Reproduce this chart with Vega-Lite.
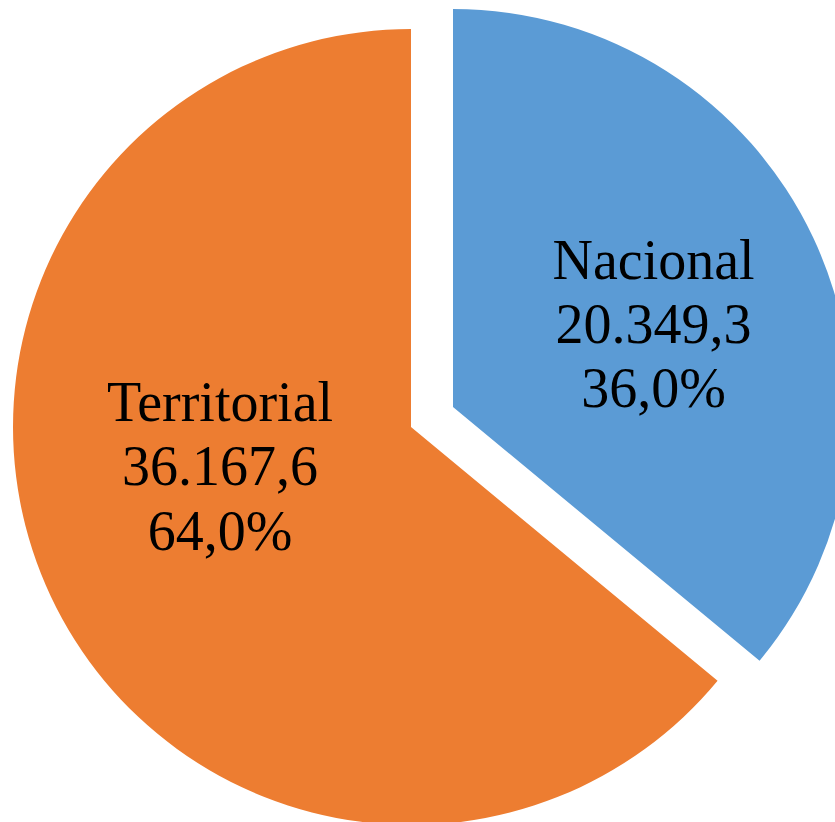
{
  "$schema": "https://vega.github.io/schema/vega-lite/v6.json",
  "autosize": {"type": "none"},
  "width": 822,
  "height": 790,
  "padding": {"left": 0, "top": 32, "right": 13, "bottom": 0},
  "background": "white",
  "config": {
    "view": {"stroke": null},
    "locale": {
      "number": {"decimal": ",", "thousands": ".", "grouping": [3], "currency": ["$", ""]}
    }
  },
  "data": {
    "values": [
      {"sector": "Nacional", "value": 20349.3, "pct": 0.36},
      {"sector": "Territorial", "value": 36167.6, "pct": 0.64}
    ]
  },
  "encoding": {
    "theta": {"field": "value", "type": "quantitative", "stack": true},
    "order": {"field": "sector", "sort": "ascending"},
    "color": {
      "field": "sector",
      "type": "nominal",
      "scale": {"domain": ["Nacional", "Territorial"], "range": ["#5B9BD5", "#ED7D31"]},
      "legend": null
    }
  },
  "layer": [
    {
      "mark": {"type": "arc", "outerRadius": 398},
      "encoding": {
        "opacity": {"condition": {"test": "datum.sector === 'Territorial'", "value": 1}, "value": 0}
      }
    },
    {
      "mark": {"type": "arc", "outerRadius": 398, "xOffset": 42, "yOffset": -20},
      "encoding": {
        "opacity": {"condition": {"test": "datum.sector === 'Nacional'", "value": 1}, "value": 0}
      }
    },
    {
      "mark": {"type": "text", "radius": 189, "dx": -20, "dy": -86, "font": "Liberation Serif", "fontSize": 56, "color": "black", "baseline": "alphabetic"},
      "encoding": {
        "text": {"condition": {"test": "datum.sector === 'Territorial'", "field": "sector", "type": "nominal"}, "value": ""},
        "color": {"value": "black"}
      }
    },
    {
      "mark": {"type": "text", "radius": 189, "dx": -20, "dy": -22, "font": "Liberation Serif", "fontSize": 56, "color": "black", "baseline": "alphabetic"},
      "encoding": {
        "text": {"condition": {"test": "datum.sector === 'Territorial'", "field": "value", "type": "quantitative", "format": ",.1f"}, "value": ""},
        "color": {"value": "black"}
      }
    },
    {
      "mark": {"type": "text", "radius": 189, "dx": -20, "dy": 43, "font": "Liberation Serif", "fontSize": 56, "color": "black", "baseline": "alphabetic"},
      "encoding": {
        "text": {"condition": {"test": "datum.sector === 'Territorial'", "field": "pct", "type": "quantitative", "format": ".1%"}, "value": ""},
        "color": {"value": "black"}
      }
    },
    {
      "mark": {"type": "text", "radius": 215, "xOffset": 42, "yOffset": -20, "dx": 6, "dy": -36, "font": "Liberation Serif", "fontSize": 56, "color": "black", "baseline": "alphabetic"},
      "encoding": {
        "text": {"condition": {"test": "datum.sector === 'Nacional'", "field": "sector", "type": "nominal"}, "value": ""},
        "color": {"value": "black"}
      }
    },
    {
      "mark": {"type": "text", "radius": 215, "xOffset": 42, "yOffset": -20, "dx": 6, "dy": 28, "font": "Liberation Serif", "fontSize": 56, "color": "black", "baseline": "alphabetic"},
      "encoding": {
        "text": {"condition": {"test": "datum.sector === 'Nacional'", "field": "value", "type": "quantitative", "format": ",.1f"}, "value": ""},
        "color": {"value": "black"}
      }
    },
    {
      "mark": {"type": "text", "radius": 215, "xOffset": 42, "yOffset": -20, "dx": 6, "dy": 92, "font": "Liberation Serif", "fontSize": 56, "color": "black", "baseline": "alphabetic"},
      "encoding": {
        "text": {"condition": {"test": "datum.sector === 'Nacional'", "field": "pct", "type": "quantitative", "format": ".1%"}, "value": ""},
        "color": {"value": "black"}
      }
    }
  ]
}
